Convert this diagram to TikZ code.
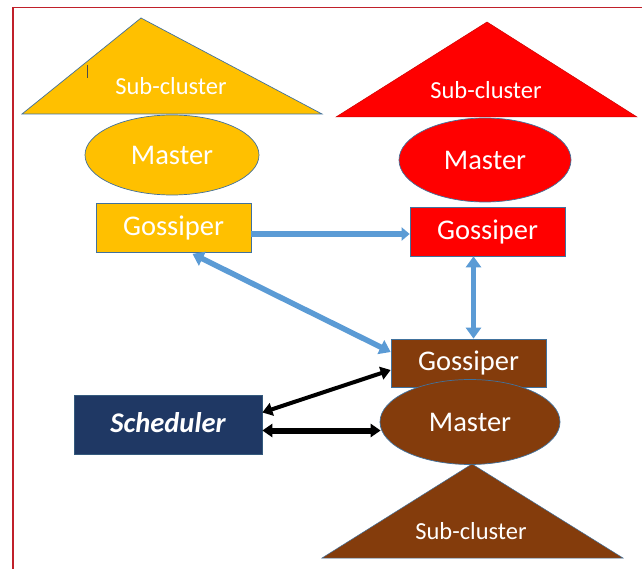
\documentclass[tikz,border=0pt]{standalone}
\usepackage{fontspec}
\setmainfont{Carlito}
\usetikzlibrary{arrows.meta,shapes.geometric,calc}
\definecolor{myyellow}{HTML}{FFC000}
\definecolor{myred}{HTML}{FF0000}
\definecolor{mybrown}{HTML}{843C0C}
\definecolor{mynavy}{HTML}{1F3864}
\definecolor{myblue}{HTML}{5B9BD5}
\definecolor{myoutline}{HTML}{41719C}
\definecolor{frame}{HTML}{C0202A}
\tikzset{
  shapeline/.style={draw=myoutline, line width=0.7pt},
  lbl/.style={text=white, font=\fontsize{24.5}{26}\selectfont, inner sep=0pt},
  bigtext/.style={text=white, font=\fontsize{28.5}{30}\selectfont},
  gossbox/.style={shapeline, rectangle, minimum width=155pt, minimum height=49pt, inner sep=0pt, bigtext},
  masterell/.style={shapeline, ellipse, inner sep=0pt, bigtext},
  bluearrow/.style={draw=myblue, line width=5.5pt, {Triangle[length=11pt,width=15pt]}-{Triangle[length=11pt,width=15pt]}},
  bluearrowone/.style={draw=myblue, line width=5.5pt, -{Triangle[length=8pt,width=13pt]}},
  blackarrow/.style={draw=black, line width=4pt, {Triangle[length=10pt,width=13pt]}-{Triangle[length=10pt,width=13pt]}},
}
\begin{document}
\begin{tikzpicture}[x=1pt,y=-1pt]
\fill[white] (0,0) rectangle (642,569);
\useasboundingbox (0,0) rectangle (642,569);
% frame
\draw[frame, line width=1.5pt] (13,569) -- (13,7.5) -- (642,7.5);

% yellow sub-cluster
\draw[shapeline, fill=myyellow] (22,114) -- (141,18) -- (322,114) -- cycle;
\node[lbl] (ysub) at (171,86) {Sub-cluster};
\draw[black!70, line width=0.6pt] (87,65) -- (87,78);
% red sub-cluster
\draw[draw=myred!80!black, line width=0.5pt, fill=myred] (336,117) -- (487,22) -- (637,117) -- cycle;
\node[lbl] (rsub) at (486,90) {Sub-cluster};

% masters
\node[masterell, fill=myyellow, minimum width=174pt, minimum height=80pt] (ym) at (172,155) {Master};
\node[masterell, fill=myred, minimum width=172pt, minimum height=84pt] (rm) at (485,160) {Master};

% gossipers
\node[gossbox, fill=myyellow] (yg) at (173.5,228) {Gossiper};
\node[gossbox, fill=myred] (rg) at (487.5,231.5) {Gossiper};
\node[gossbox, fill=mybrown, minimum height=48pt] (bg) at (468.5,363) {Gossiper};

% brown master and sub-cluster
\node[masterell, fill=mybrown, minimum width=180pt, minimum height=85pt] (bm) at (470,422) {Master};
\draw[draw=myoutline, line width=0.5pt, fill=mybrown] (322,558) -- (472,464) -- (623,558) -- cycle;
\node[lbl] (bsub) at (471,531) {Sub-cluster};

% scheduler
\node[draw=myoutline!80!black, line width=0.7pt, fill=mynavy, minimum width=188pt, minimum height=59pt, inner sep=0pt,
      text=white, font=\fontsize{28.5}{30}\selectfont\bfseries\itshape] (sch) at (168,424.5) {\raisebox{4pt}{Scheduler}};

% connectors
\draw[bluearrowone] (yg.east) ++(0,6) coordinate (a1) (a1) -- (a1 -| rg.west);
\draw[bluearrow] ([xshift=19pt,yshift=-1pt]yg.south) -- ([yshift=11pt]bg.west);
\draw[bluearrow] ([xshift=-14pt]rg.south) -- ([xshift=-14pt]rg.south |- bg.north);
\draw[blackarrow] ([yshift=12pt]sch.east) -- ([yshift=-7pt]bg.west);
\draw[blackarrow, line width=6pt] ([yshift=-6pt]sch.east) -- ([yshift=-6pt,xshift=1pt]sch.east -| bm.west);
\end{tikzpicture}
\end{document}
